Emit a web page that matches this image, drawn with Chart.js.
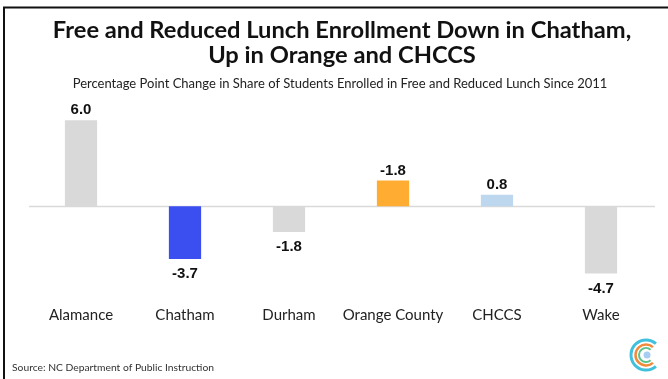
<!DOCTYPE html>
<html>
<head>
<meta charset="utf-8">
<script src="https://cdn.jsdelivr.net/npm/chart.js@4/dist/chart.umd.min.js"></script>
<style>
  html, body { margin: 0; padding: 0; background: #fff; }
  #wrap { width: 668px; height: 379px; position: relative; }
</style>
</head>
<body>
<div id="wrap"><canvas id="lunchChart"></canvas></div>
<script>
const districts = ['Alamance', 'Chatham', 'Durham', 'Orange County', 'CHCCS', 'Wake'];
const pointChange = [6.0, -3.7, -1.8, 1.8, 0.8, -4.7];
const changeLabels = ['6.0', '-3.7', '-1.8', '-1.8', '0.8', '-4.7'];
const barColors = ['#d9d9d9', '#3b4ff0', '#d9d9d9', '#ffac33', '#bdd7ee', '#d9d9d9'];

const titleLines = ['Free and Reduced Lunch Enrollment Down in Chatham,', 'Up in Orange and CHCCS'];
const subtitle = 'Percentage Point Change in Share of Students Enrolled in Free and Reduced Lunch Since 2011';
const source = 'Source: NC Department of Public Instruction';

// frame, headings, zero line, bar values and the little logo
const decorations = {
  id: 'decorations',
  beforeDatasetsDraw(chart) {
    const { ctx, chartArea, scales } = chart;
    const y0 = Math.round(scales.y.getPixelForValue(0)) + 0.5;
    ctx.save();
    ctx.strokeStyle = '#d9d9d9';
    ctx.lineWidth = 1.5;
    ctx.beginPath();
    ctx.moveTo(chartArea.left, y0);
    ctx.lineTo(chartArea.right + 2, y0);
    ctx.stroke();
    ctx.restore();
  },
  afterDraw(chart) {
    const { ctx } = chart;
    ctx.save();

    // frame: top and left edges only
    ctx.strokeStyle = '#111';
    ctx.lineWidth = 2;
    ctx.beginPath();
    ctx.moveTo(668, 7.5);
    ctx.lineTo(4, 7.5);
    ctx.lineTo(4, 379);
    ctx.stroke();

    ctx.fillStyle = '#111';
    ctx.textAlign = 'center';
    ctx.textBaseline = 'middle';
    ctx.font = 'bold 23.7px Lato';
    ctx.fillText(titleLines[0], 342, 30);
    ctx.fillText(titleLines[1], 342, 55);

    ctx.font = '13px Lato';
    ctx.fillStyle = '#222';
    ctx.fillText(subtitle, 340, 84);

    ctx.textAlign = 'left';
    ctx.font = '10.3px Lato';
    ctx.fillStyle = '#333';
    ctx.fillText(source, 12, 368);

    // value labels above / below each bar
    const meta = chart.getDatasetMeta(0);
    ctx.textAlign = 'center';
    ctx.font = 'bold 15px "Liberation Sans"';
    ctx.fillStyle = '#111';
    meta.data.forEach((bar, i) => {
      const v = pointChange[i];
      const y = v >= 0 ? bar.y - 10 : bar.y + 15;
      ctx.fillText(changeLabels[i], bar.x, y);
    });

    // logo: concentric open rings
    const cx = 646, cy = 355;
    const rings = [
      { r: 15, w: 3, c: '#40c0dc' },
      { r: 10.5, w: 2.5, c: '#f08a3c' },
      { r: 7, w: 2, c: '#5cc28c' }
    ];
    rings.forEach(ring => {
      ctx.strokeStyle = ring.c;
      ctx.lineWidth = ring.w;
      ctx.beginPath();
      ctx.arc(cx, cy, ring.r, Math.PI * 0.27, Math.PI * 1.73);
      ctx.stroke();
    });
    ctx.fillStyle = '#a8cdf2';
    ctx.beginPath();
    ctx.arc(cx + 1, cy, 3.5, 0, Math.PI * 2);
    ctx.fill();

    ctx.restore();
  }
};

new Chart(document.getElementById('lunchChart'), {
  type: 'bar',
  data: {
    labels: districts,
    datasets: [{
      data: pointChange,
      backgroundColor: barColors,
      borderWidth: 0,
      barPercentage: 0.62,
      categoryPercentage: 0.5
    }]
  },
  options: {
    responsive: true,
    maintainAspectRatio: false,
    animation: false,
    layout: { padding: { top: 106, left: 29, right: 15, bottom: 41 } },
    plugins: {
      legend: { display: false },
      tooltip: { enabled: false }
    },
    scales: {
      x: {
        grid: { display: false, drawTicks: false },
        border: { display: false },
        ticks: {
          padding: 14,
          color: '#222',
          maxRotation: 0,
          minRotation: 0,
          autoSkip: false,
          font: { family: 'Lato', size: 15 }
        }
      },
      y: {
        display: false,
        min: -6,
        max: 7
      }
    }
  },
  plugins: [decorations]
});
</script>
</body>
</html>
